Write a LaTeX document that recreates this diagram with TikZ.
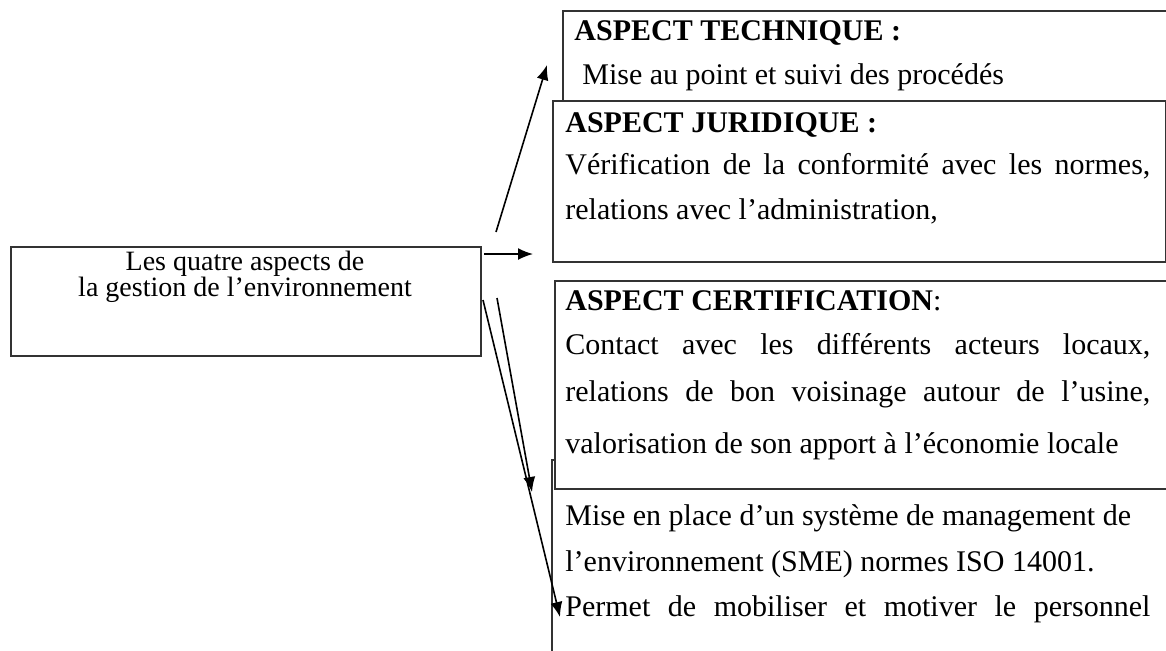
\documentclass[tikz,border=0pt]{standalone}
\usepackage{fontspec}
\setmainfont{Liberation Serif}
\usetikzlibrary{arrows.meta}
\newcommand{\jline}[1]{\makebox[292.5pt][s]{#1}}
\begin{document}
\begin{tikzpicture}
    [x=0.5pt,y=-0.5pt,
     box/.style={rectangle,draw=black!80,line width=0.75pt,fill=white,inner sep=0pt,anchor=north west},
     txt/.style={inner sep=0pt,anchor=base west,font=\fontsize{15}{18}\selectfont},
     head/.style={txt,font=\fontsize{15}{18}\selectfont\bfseries},
     srctxt/.style={inner sep=0pt,anchor=base,font=\fontsize{14}{16}\selectfont},
     arr/.style={line width=0.8pt,-{Latex[length=7.5pt,width=6pt]}}]
    \useasboundingbox (0,0) rectangle (1166,650);
    \clip (0,0) rectangle (1166,650);

    % the four boxes on the right
    \node[box,minimum width=309pt,minimum height=51pt] (tech) at (562,10) {};
    \node[box,minimum width=306.5pt,minimum height=80.5pt] (jur) at (552,100) {};
    \node[box,minimum width=320pt,minimum height=110pt] (sme) at (551,459) {};
    \node[box,minimum width=310pt,minimum height=104pt] (cert) at (554,280) {};
    \node[box,minimum width=235pt,minimum height=54.5pt] (src) at (10,246) {};

    \node[head] (techT) at (574,40) {ASPECT TECHNIQUE :};
    \node[txt] (tech1) at (582,84) {Mise au point et suivi des procédés};

    \node[head] (jurT) at (565,132) {ASPECT JURIDIQUE :};
    \node[txt] (jur1) at (565,174) {\jline{Vérification de la conformité avec les normes,}};
    \node[txt] (jur2) at (565,219) {relations avec l’administration,};

    \node[head] (certT) at (565,310) {ASPECT CERTIFICATION\mdseries:};
    \node[txt] (cert1) at (565,354) {\jline{Contact avec les différents acteurs locaux,}};
    \node[txt] (cert2) at (565,401) {\jline{relations de bon voisinage autour de l’usine,}};
    \node[txt] (cert3) at (565,453) {valorisation de son apport à l’économie locale};

    \node[txt] (sme1) at (565,525) {Mise en place d’un système de management de};
    \node[txt] (sme2) at (565,571) {l’environnement (SME) normes ISO 14001.};
    \node[txt] (sme3) at (565,616) {\jline{Permet de mobiliser et motiver le personnel}};

    \node[srctxt] (src1) at (245,270) {Les quatre aspects de};
    \node[srctxt] (src2) at (245,296) {la gestion de l’environnement};

    % arrows
    \coordinate (t1) at (496,232);
    \coordinate (h1) at (547,65);
    \coordinate (t2) at (484,254);
    \coordinate (h2) at (533,254);
    \coordinate (t3) at (497,298);
    \coordinate (h3) at (532,492);
    \coordinate (t4) at (483,300);
    \coordinate (h4) at (560,617);

    \draw[arr] (t1) -- (h1);
    \draw[arr] (t2) -- (h2);
    \draw[arr] (t3) -- (h3);
    \draw[arr] (t4) -- (h4);
  \end{tikzpicture}
\end{document}
